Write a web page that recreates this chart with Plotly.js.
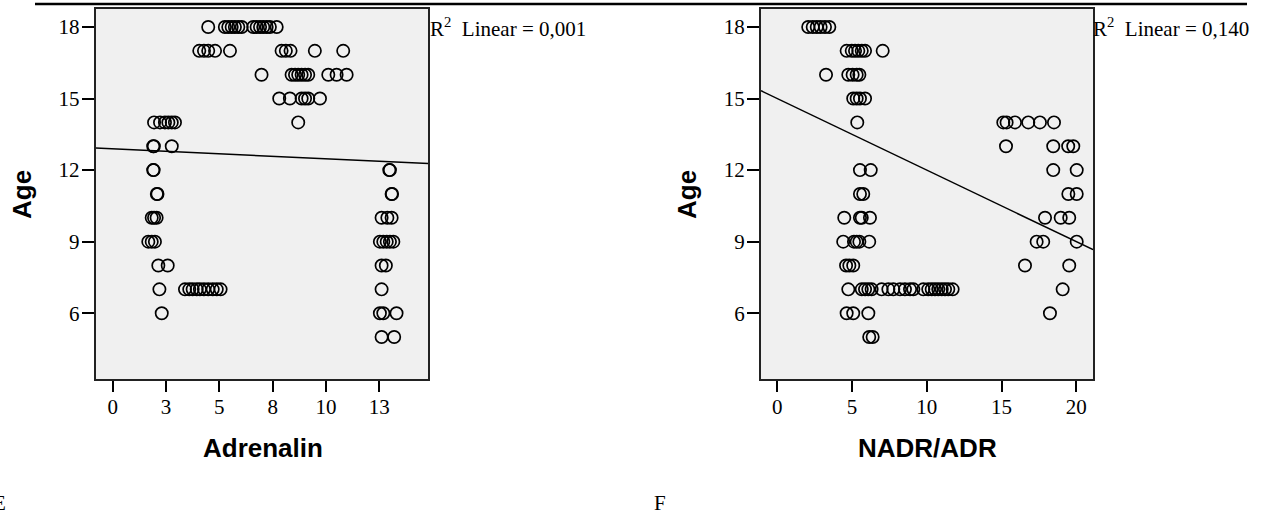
<!DOCTYPE html>
<html>
<head>
<meta charset="utf-8">
<script src="https://cdn.plot.ly/plotly-3.0.1.min.js"></script>
<style>html,body{margin:0;padding:0;background:#fff;}#chart{width:1265px;height:515px;}</style>
</head>
<body>
<div id="chart"></div>
<script>
// ---- Panel E: Adrenalin vs Age ----
const adrenalinValues = [
  4.48,5.26,5.42,5.58,5.73,5.89,6.05,6.59,6.75,6.91,7.06,7.22,7.37,7.69,
  4.06,4.28,4.48,4.80,5.50,7.92,8.12,8.34,9.48,10.81,
  6.98,8.39,8.55,8.70,8.86,9.02,9.17,10.11,10.50,10.97,
  7.81,8.31,8.86,9.02,9.17,9.72,
  1.94,2.22,2.45,2.61,2.77,2.92,8.70,
  1.90,1.93,2.77,
  1.90,1.92,12.97,13.00,
  2.07,2.10,13.08,13.10,
  1.83,1.94,2.06,12.61,12.88,13.08,
  1.67,1.83,1.98,12.53,12.69,12.85,13.00,13.16,
  2.14,2.58,12.61,12.81,
  2.19,3.39,3.59,3.75,3.94,4.09,4.28,4.48,4.69,4.88,5.06,12.61,
  2.30,12.53,12.69,13.31,
  12.61,13.20
];
const adrenalinAges = [
  18,18,18,18,18,18,18,18,18,18,18,18,18,18,
  17,17,17,17,17,17,17,17,17,17,
  16,16,16,16,16,16,16,16,16,16,
  15,15,15,15,15,15,
  14,14,14,14,14,14,14,
  13,13,13,
  12,12,12,12,
  11,11,11,11,
  10,10,10,10,10,10,
  9,9,9,9,9,9,9,9,
  8,8,8,8,
  7,7,7,7,7,7,7,7,7,7,7,7,
  6,6,6,6,
  5,5
];
const adrenalinFit = {intercept: 12.89, slope: -0.0417};
const adrenalinRange = [-0.797, 14.80];
const adrenalinTickVals = [0, 2.5, 5, 7.5, 10, 12.5];
const adrenalinTickText = ['0','3','5','8','10','13'];
const adrenalinR2 = 'R<sup>2</sup>  Linear = 0,001';

// ---- Panel F: NADR/ADR vs Age ----
const ratioValues = [
  2.07,2.37,2.64,2.90,3.19,3.48,
  4.64,4.98,5.20,5.42,5.65,5.87,7.05,
  3.26,4.75,5.04,5.31,5.49,
  5.08,5.31,5.53,5.87,
  5.35,15.12,15.34,15.90,16.79,17.57,18.51,
  15.30,18.46,19.46,19.80,
  5.53,6.25,18.46,20.03,
  5.53,5.75,19.47,20.03,
  4.48,5.53,5.65,6.20,17.91,18.96,19.53,
  4.41,5.13,5.31,5.49,6.15,17.35,17.79,20.03,
  4.60,4.82,5.08,16.57,19.53,
  4.75,5.65,5.87,6.09,6.31,6.98,7.43,7.76,8.21,8.54,8.88,9.10,9.77,10.10,10.33,10.55,10.77,11.00,11.22,11.44,11.73,19.09,
  4.64,5.08,6.09,18.24,
  6.15,6.38
];
const ratioAges = [
  18,18,18,18,18,18,
  17,17,17,17,17,17,17,
  16,16,16,16,16,
  15,15,15,15,
  14,14,14,14,14,14,14,
  13,13,13,13,
  12,12,12,12,
  11,11,11,11,
  10,10,10,10,10,10,10,
  9,9,9,9,9,9,9,9,
  8,8,8,8,8,
  7,7,7,7,7,7,7,7,7,7,7,7,7,7,7,7,7,7,7,7,7,7,
  6,6,6,6,
  5,5
];
const ratioFit = {intercept: 15.0, slope: -0.30};
const ratioRange = [-1.09, 21.12];
const ratioTickVals = [0, 5, 10, 15, 20];
const ratioTickText = ['0','5','10','15','20'];
const ratioR2 = 'R<sup>2</sup>  Linear = 0,140';

const ageRange = [3.24, 18.755];
const ageTickVals = [6, 9, 12, 15, 18];

// ---- build ----
const W = 1265, H = 515;
const px = v => v / W;
const py = v => 1 - v / H;

const marker = {symbol: 'circle', size: 12.3, color: 'rgba(0,0,0,0)', line: {color: '#000', width: 1.7}};

function fitLine(fit, range) {
  return {x: range, y: range.map(v => fit.intercept + fit.slope * v)};
}
const fa = fitLine(adrenalinFit, adrenalinRange);
const fr = fitLine(ratioFit, ratioRange);

const traces = [
  {type: 'scatter', mode: 'lines', x: fa.x, y: fa.y, xaxis: 'x', yaxis: 'y', line: {color: '#000', width: 1.5}, hoverinfo: 'skip'},
  {type: 'scatter', mode: 'markers', x: adrenalinValues, y: adrenalinAges, xaxis: 'x', yaxis: 'y', marker: marker, cliponaxis: false},
  {type: 'scatter', mode: 'lines', x: fr.x, y: fr.y, xaxis: 'x2', yaxis: 'y2', line: {color: '#000', width: 1.5}, hoverinfo: 'skip'},
  {type: 'scatter', mode: 'markers', x: ratioValues, y: ratioAges, xaxis: 'x2', yaxis: 'y2', marker: marker, cliponaxis: false}
];

const tickFont = {family: 'Liberation Serif', size: 21, color: '#000'};
function xAxis(domain, range, vals, text, anchor) {
  return {domain: domain, range: range, anchor: anchor, tickmode: 'array', tickvals: vals, ticktext: text,
    ticks: 'outside', ticklen: 11, tickwidth: 2, tickcolor: '#000', showgrid: false, zeroline: false,
    showline: true, linecolor: '#222', linewidth: 2, mirror: true, tickfont: tickFont, fixedrange: true,
    ticklabelstandoff: -3};
}
function yAxis(domain, anchor) {
  return {domain: domain, range: ageRange, anchor: anchor, tickmode: 'array', tickvals: ageTickVals,
    ticks: 'outside', ticklen: 12, tickwidth: 2, tickcolor: '#000', showgrid: false, zeroline: false,
    showline: true, linecolor: '#222', linewidth: 2, mirror: true, tickfont: tickFont, fixedrange: true,
    ticklabelstandoff: -2};
}

const yDom = [py(379), py(9)];
const titleFont = {family: 'Liberation Sans', size: 26, color: '#000', weight: 'bold'};
const serif21 = {family: 'Liberation Serif', size: 21, color: '#000'};

const layout = {
  width: W, height: H,
  margin: {l: 0, r: 0, t: 0, b: 0},
  paper_bgcolor: '#fff',
  plot_bgcolor: '#f0f0f0',
  showlegend: false,
  hovermode: false,
  xaxis: xAxis([px(95.7), px(428.3)], adrenalinRange, adrenalinTickVals, adrenalinTickText, 'y'),
  yaxis: yAxis(yDom, 'x'),
  xaxis2: xAxis([px(761), px(1093)], ratioRange, ratioTickVals, ratioTickText, 'y2'),
  yaxis2: yAxis(yDom, 'x2'),
  shapes: [
    {type: 'line', xref: 'paper', yref: 'paper', x0: px(35), x1: px(1247), y0: py(4), y1: py(4), line: {color: '#000', width: 2.5}}
  ],
  annotations: [
    {xref: 'paper', yref: 'paper', x: px(22), y: py(195), text: 'Age', textangle: -90, showarrow: false, font: titleFont, xanchor: 'center', yanchor: 'middle'},
    {xref: 'paper', yref: 'paper', x: px(687), y: py(195), text: 'Age', textangle: -90, showarrow: false, font: titleFont, xanchor: 'center', yanchor: 'middle'},
    {xref: 'paper', yref: 'paper', x: px(263), y: py(448), text: 'Adrenalin', showarrow: false, font: titleFont, xanchor: 'center', yanchor: 'middle'},
    {xref: 'paper', yref: 'paper', x: px(927), y: py(448), text: 'NADR/ADR', showarrow: false, font: titleFont, xanchor: 'center', yanchor: 'middle'},
    {xref: 'paper', yref: 'paper', x: px(428), y: py(27), text: adrenalinR2, showarrow: false, font: serif21, xanchor: 'left', yanchor: 'middle'},
    {xref: 'paper', yref: 'paper', x: px(1091), y: py(27), text: ratioR2, showarrow: false, font: serif21, xanchor: 'left', yanchor: 'middle'},
    {xref: 'paper', yref: 'paper', x: px(8), y: py(503), text: 'E', showarrow: false, font: serif21, xanchor: 'right', yanchor: 'middle'},
    {xref: 'paper', yref: 'paper', x: px(652), y: py(503), text: 'F', showarrow: false, font: serif21, xanchor: 'left', yanchor: 'middle'}
  ]
};

Plotly.newPlot('chart', traces, layout, {displayModeBar: false, staticPlot: true});
</script>
</body>
</html>
